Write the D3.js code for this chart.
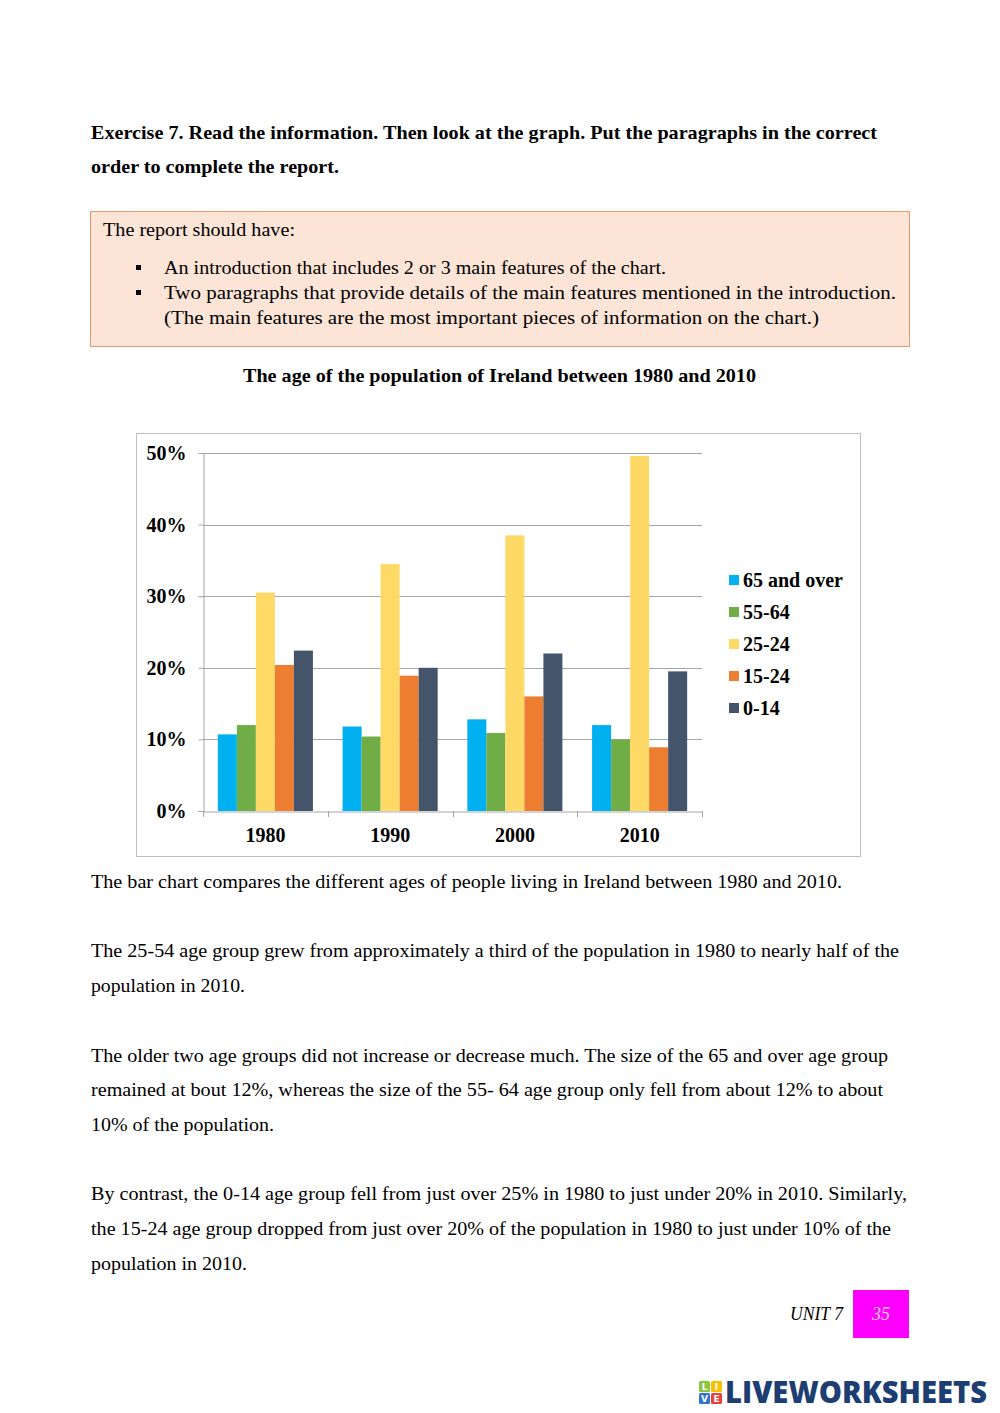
<!DOCTYPE html>
<html>
<head>
<meta charset="utf-8">
<script src="https://cdn.jsdelivr.net/npm/d3@7"></script>
<style>
  body { margin: 0; background: #fff; }
</style>
</head>
<body>
<div id="page"></div>
<script>
// chart data
var years = ["1980", "1990", "2000", "2010"];
var seriesNames = ["65 and over", "55-64", "25-24", "15-24", "0-14"];
var over65 = [10.7, 11.8, 12.8, 12.0];
var age5564 = [12.0, 10.4, 10.9, 10.0];
var age2554 = [30.5, 34.5, 38.5, 49.6];
var age1524 = [20.4, 18.9, 16.0, 8.9];
var age014 = [22.4, 20.0, 22.0, 19.5];
var colors = ["#00b0f0", "#70ad47", "#ffd966", "#ed7d31", "#44546a"];
var yTicks = [0, 10, 20, 30, 40, 50];

var seriesValues = [over65, age5564, age2554, age1524, age014];

var serif = "'Liberation Serif', 'Times New Roman', serif";

var svg = d3.select("#page").append("svg")
    .attr("width", 1000)
    .attr("height", 1413);

// helper: one line of page text, stretched to the width it has in the picture
function line(x, y, str, len, opts) {
    opts = opts || {};
    var t = svg.append("text")
        .attr("x", x)
        .attr("y", y)
        .style("font-family", serif)
        .attr("font-size", opts.size || 19)
        .attr("font-weight", opts.bold ? "bold" : "normal")
        .attr("font-style", opts.italic ? "italic" : "normal")
        .attr("fill", opts.fill || "#000")
        .text(str);
    if (len) t.attr("textLength", len).attr("lengthAdjust", "spacingAndGlyphs");
    if (opts.anchor) t.attr("text-anchor", opts.anchor);
    return t;
}

// heading
line(91, 139, "Exercise 7. Read the information. Then look at the graph. Put the paragraphs in the correct", 786, {bold: true});
line(91, 173, "order to complete the report.", 248, {bold: true});

// instruction box
svg.append("rect")
    .attr("x", 90.5).attr("y", 211.5)
    .attr("width", 819).attr("height", 135)
    .attr("fill", "#fce4d6")
    .attr("stroke", "#e39a6c");
line(103, 236, "The report should have:", 192);
[274, 299].forEach(function(y) {
    svg.append("rect").attr("x", 136).attr("y", y - 9).attr("width", 5).attr("height", 5).attr("fill", "#000");
});
line(164, 274, "An introduction that includes 2 or 3 main features of the chart.", 502);
line(164, 299, "Two paragraphs that provide details of the main features mentioned in the introduction.", 732);
line(164, 324, "(The main features are the most important pieces of information on the chart.)", 655);

// chart title
line(243, 382, "The age of the population of Ireland between 1980 and 2010", 513, {bold: true});

// chart frame
svg.append("rect")
    .attr("x", 136.5).attr("y", 433.5)
    .attr("width", 724).attr("height", 423)
    .attr("fill", "#fff")
    .attr("stroke", "#bfbfbf");

var x0 = d3.scaleBand().domain(years).range([203, 702]).padding(0);
var x1 = d3.scaleBand().domain(seriesNames).range([0, x0.bandwidth()])
    .paddingInner(0).paddingOuter(0.78);
var y = d3.scaleLinear().domain([0, 50]).range([811, 453]);

var g = svg.append("g");

// gridlines
g.selectAll(".grid")
    .data(yTicks.slice(1))
    .enter().append("line")
        .attr("x1", 203).attr("x2", 702)
        .attr("y1", function(d) { return Math.round(y(d)) + 0.5; })
        .attr("y2", function(d) { return Math.round(y(d)) + 0.5; })
        .attr("stroke", "#a6a6a6");

// y axis
var yAxis = g.append("g")
    .attr("transform", "translate(203.5,0)")
    .call(d3.axisLeft(y).tickValues(yTicks).tickSize(5).tickFormat(function(d) { return d + "%"; }));
yAxis.select(".domain").attr("stroke", "#a6a6a6");
yAxis.selectAll(".tick line").attr("stroke", "#a6a6a6");
yAxis.selectAll(".tick text")
    .attr("x", -17)
    .style("font-family", serif)
    .attr("font-size", 20)
    .attr("font-weight", "bold")
    .attr("fill", "#000");

// bars
var groups = g.selectAll(".year")
    .data(years)
    .enter().append("g")
        .attr("transform", function(d) { return "translate(" + x0(d) + ",0)"; });

groups.selectAll("rect")
    .data(function(d, i) {
        return seriesNames.map(function(s, j) { return {name: s, value: seriesValues[j][i], k: j}; });
    })
    .enter().append("rect")
        .attr("x", function(d) { return x1(d.name); })
        .attr("width", x1.bandwidth())
        .attr("y", function(d) { return y(d.value); })
        .attr("height", function(d) { return y(0) - y(d.value); })
        .attr("fill", function(d) { return colors[d.k]; });

// x axis
var xAxis = g.append("g")
    .attr("transform", "translate(0,811.5)")
    .call(d3.axisBottom(x0).tickSize(0).tickPadding(16));
xAxis.select(".domain").attr("stroke", "#a6a6a6");
xAxis.selectAll(".tick text")
    .style("font-family", serif)
    .attr("font-size", 20)
    .attr("font-weight", "bold")
    .attr("fill", "#000");
// category separators
g.selectAll(".sep")
    .data(years.concat(["end"]))
    .enter().append("line")
        .attr("x1", function(d, i) { return Math.round(203 + i * x0.bandwidth()) + 0.5; })
        .attr("x2", function(d, i) { return Math.round(203 + i * x0.bandwidth()) + 0.5; })
        .attr("y1", 811).attr("y2", 817)
        .attr("stroke", "#a6a6a6");

// legend
var legend = g.selectAll(".legend")
    .data(seriesNames)
    .enter().append("g")
        .attr("transform", function(d, i) { return "translate(729," + (580 + i * 32) + ")"; });
legend.append("rect")
    .attr("x", 0).attr("y", -5)
    .attr("width", 10).attr("height", 10)
    .attr("fill", function(d, i) { return colors[i]; });
legend.append("text")
    .attr("x", 14).attr("y", 7)
    .style("font-family", serif)
    .attr("font-size", 20)
    .attr("font-weight", "bold")
    .text(function(d) { return d; });

// report paragraphs
line(91, 888, "The bar chart compares the different ages of people living in Ireland between 1980 and 2010.", 751);
line(91, 957, "The 25-54 age group grew from approximately a third of the population in 1980 to nearly half of the", 808);
line(91, 992, "population in 2010.", 154);
line(91, 1062, "The older two age groups did not increase or decrease much. The size of the 65 and over age group", 797);
line(91, 1096, "remained at bout 12%, whereas the size of the 55- 64 age group only fell from about 12% to about", 792);
line(91, 1131, "10% of the population.", 183);
line(91, 1200, "By contrast, the 0-14 age group fell from just over 25% in 1980 to just under 20% in 2010. Similarly,", 816);
line(91, 1235, "the 15-24 age group dropped from just over 20% of the population in 1980 to just under 10% of the", 800);
line(91, 1270, "population in 2010.", 156);

// footer
line(790, 1320, "UNIT 7", 53, {italic: true, size: 18});
svg.append("rect")
    .attr("x", 853).attr("y", 1290)
    .attr("width", 56).attr("height", 48)
    .attr("fill", "#ff00ff");
line(881, 1320, "35", null, {italic: true, size: 18, fill: "#ffc8ff", anchor: "middle"});

// logo
var logoLetters = [
    {ch: "L", c: "#8cc63f", dx: 0, dy: 0},
    {ch: "I", c: "#f6c100", dx: 12, dy: 0},
    {ch: "V", c: "#2f74c8", dx: 0, dy: 12},
    {ch: "E", c: "#e8413b", dx: 12, dy: 12}
];
var logo = svg.append("g").attr("transform", "translate(699,1381)");
logo.selectAll("rect")
    .data(logoLetters)
    .enter().append("rect")
        .attr("x", function(d) { return d.dx; })
        .attr("y", function(d) { return d.dy; })
        .attr("width", 11).attr("height", 11).attr("rx", 1.5)
        .attr("fill", function(d) { return d.c; });
logo.selectAll("text")
    .data(logoLetters)
    .enter().append("text")
        .attr("x", function(d) { return d.dx + 5.5; })
        .attr("y", function(d) { return d.dy + 9; })
        .attr("text-anchor", "middle")
        .style("font-family", "'DejaVu Sans', sans-serif")
        .attr("font-weight", "bold")
        .attr("font-size", 9)
        .attr("fill", "#fff")
        .text(function(d) { return d.ch; });
svg.append("text")
    .attr("x", 725).attr("y", 1403)
    .style("font-family", "'Open Sans', 'DejaVu Sans', sans-serif")
    .attr("font-weight", "800")
    .attr("font-size", 30)
    .attr("fill", "#1d3e72")
    .attr("textLength", 262)
    .attr("lengthAdjust", "spacingAndGlyphs")
    .text("LIVEWORKSHEETS");
</script>
</body>
</html>
